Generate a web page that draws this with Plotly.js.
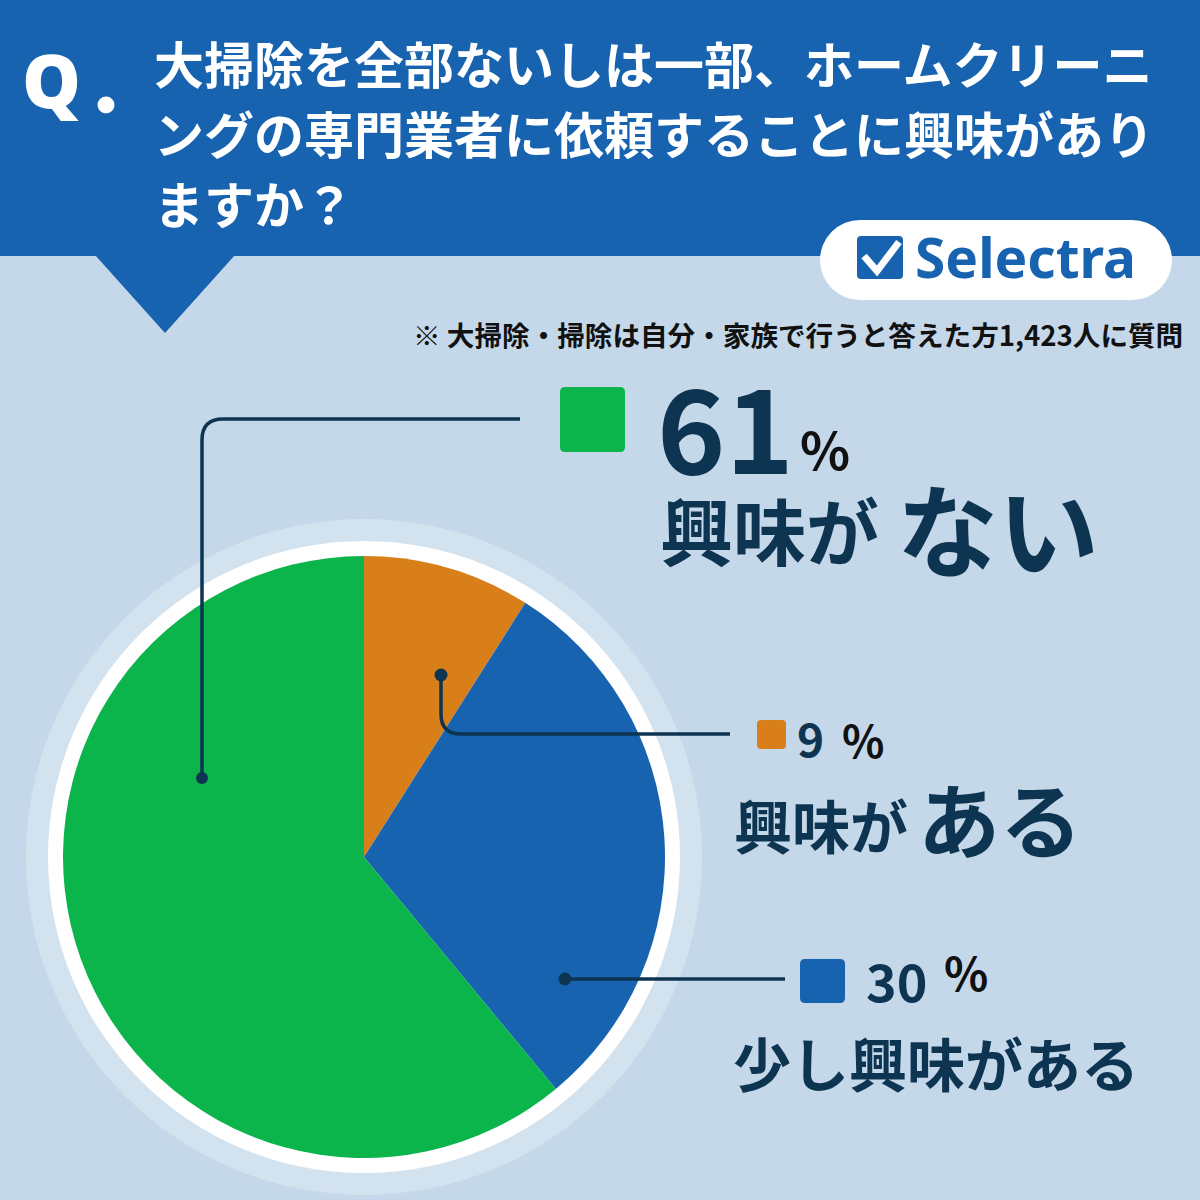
<!DOCTYPE html>
<html>
<head>
<meta charset="utf-8">
<script src="https://cdn.plot.ly/plotly-3.0.1.min.js"></script>
<style>html,body{margin:0;padding:0;background:#c5d8ea;}#chart{width:1200px;height:1200px;}</style>
</head>
<body>
<div id="chart"></div>
<script>
// ---- data ----
const categories = ['興味がある', '少し興味がある', '興味がない'];
const values = [9, 30, 61];
const sliceColors = ['#d97f1a', '#1763b0', '#0bb54c'];
const titleLines = ['大掃除を全部ないしは一部、ホームクリーニ', 'ングの専門業者に依頼することに興味があり', 'ますか？'];
const noteText = '※ 大掃除・掃除は自分・家族で行うと答えた方1,423人に質問';
const brandName = 'Selectra';

// ---- helpers (pixel -> paper) ----
const W = 1200, H = 1200;
const X = p => p / W;
const Y = p => 1 - p / H;
const NAVY = '#0d3451';
const FONT = '"Noto Sans CJK JP", "Noto Sans", sans-serif';

function path(segs) {
  return segs.map(s => {
    const c = s[0];
    const nums = [];
    for (let i = 1; i < s.length; i += 2) nums.push(X(s[i]) + ',' + Y(s[i + 1]));
    return c + nums.join(' ');
  }).join(' ');
}
function roundRect(x0, y0, x1, y1, r) {
  return path([
    ['M', x0 + r, y0], ['L', x1 - r, y0], ['Q', x1, y0, x1, y0 + r],
    ['L', x1, y1 - r], ['Q', x1, y1, x1 - r, y1], ['L', x0 + r, y1],
    ['Q', x0, y1, x0, y1 - r], ['L', x0, y0 + r], ['Q', x0, y0, x0 + r, y0], ['Z']
  ]);
}
function circle(cx, cy, r, color, layer) {
  return {type: 'circle', xref: 'paper', yref: 'paper', x0: X(cx - r), x1: X(cx + r), y0: Y(cy + r), y1: Y(cy - r),
    fillcolor: color, line: {width: 0}, layer: layer || 'above'};
}
function ann(text, x, y, size, color, xanchor, extra) {
  return Object.assign({text: text, x: X(x), y: Y(y), xref: 'paper', yref: 'paper', showarrow: false,
    xanchor: xanchor || 'left', yanchor: 'middle',
    font: {family: FONT, size: size, color: color || NAVY, weight: 700}}, extra || {});
}

// pie geometry
const cx = 364, cy = 857, r = 301;

const shapes = [
  // header banner
  {type: 'rect', xref: 'paper', yref: 'paper', x0: 0, x1: 1, y0: Y(256), y1: 1, fillcolor: '#1763b0', line: {width: 0}, layer: 'below'},
  {type: 'path', xref: 'paper', yref: 'paper', path: path([['M', 95, 255], ['L', 235, 255], ['L', 165, 333], ['Z']]), fillcolor: '#1763b0', line: {width: 0}, layer: 'below'},
  // halo + white ring
  circle(cx, cy, 338, '#d3e2ef', 'below'),
  circle(cx, cy, 316, '#ffffff', 'below'),
  // Selectra pill
  {type: 'rect', xref: 'paper', yref: 'paper', x0: X(860), x1: X(1132), y0: Y(300), y1: Y(220), fillcolor: '#ffffff', line: {width: 0}, layer: 'above'},
  circle(860, 260, 40, '#ffffff'),
  circle(1132, 260, 40, '#ffffff'),
  {type: 'path', xref: 'paper', yref: 'paper', path: roundRect(857, 236, 903, 279, 4), fillcolor: '#1763b0', line: {width: 0}},
  {type: 'path', xref: 'paper', yref: 'paper', path: path([['M', 864, 256], ['L', 877, 271], ['L', 899, 242]]), line: {color: '#ffffff', width: 7}},
  // Q dot
  circle(106, 105, 8.5, '#ffffff'),
  // legend squares
  {type: 'path', xref: 'paper', yref: 'paper', path: roundRect(560, 387, 625, 452, 5), fillcolor: sliceColors[2], line: {width: 0}},
  {type: 'path', xref: 'paper', yref: 'paper', path: roundRect(757, 720, 786, 749, 4), fillcolor: sliceColors[0], line: {width: 0}},
  {type: 'path', xref: 'paper', yref: 'paper', path: roundRect(800, 959, 845, 1003, 5), fillcolor: sliceColors[1], line: {width: 0}},
  // leader lines
  {type: 'path', xref: 'paper', yref: 'paper', path: path([['M', 202, 778], ['L', 202, 440], ['Q', 202, 419, 223, 419], ['L', 520, 419]]), line: {color: NAVY, width: 3.5}},
  circle(202, 778, 6, NAVY),
  {type: 'path', xref: 'paper', yref: 'paper', path: path([['M', 441, 675], ['L', 441, 714], ['Q', 441, 734, 461, 734], ['L', 730, 734]]), line: {color: NAVY, width: 3.5}},
  circle(441, 675, 6.5, NAVY),
  {type: 'path', xref: 'paper', yref: 'paper', path: path([['M', 565, 979], ['L', 785, 979]]), line: {color: NAVY, width: 3.5}},
  circle(565, 979, 6.5, NAVY)
];

const annotations = [
  ann('Q', 20, 80, 72, '#ffffff', 'left', {font: {family: '"Noto Sans", sans-serif', size: 74, color: '#ffffff', weight: 900}}),
  ann(titleLines[0], 152, 62, 50, '#ffffff'),
  ann(titleLines[1], 152, 132, 50, '#ffffff'),
  ann(titleLines[2], 152, 202, 50, '#ffffff'),
  ann(brandName, 913, 257, 55, '#1763b0', 'left', {font: {family: '"Noto Sans", sans-serif', size: 55, color: '#1763b0', weight: 700}}),
  ann(noteText, 1185, 334, 27.6, '#111111', 'right'),
  // 61% 興味がない
  ann('61', 655, 423, 116, NAVY),
  ann('%', 798, 448, 52, '#111111'),
  ann('興味が', 658, 528, 73, NAVY),
  ann('ない', 895, 526, 101, NAVY),
  // 9% 興味がある
  ann('9', 795, 737, 46, NAVY),
  ann('%', 840, 739, 44, '#111111'),
  ann('興味が', 732, 824, 58, NAVY),
  ann('ある', 916, 816, 82, NAVY),
  // 30% 少し興味がある
  ann('30', 864, 979, 52, NAVY),
  ann('%', 942, 971, 46, '#111111'),
  ann(categories[1], 731, 1062, 58, NAVY)
];

const data = [{
  type: 'pie',
  labels: categories,
  values: values,
  marker: {colors: sliceColors, line: {width: 0}},
  sort: false,
  direction: 'clockwise',
  rotation: 0,
  textinfo: 'none',
  hoverinfo: 'skip',
  showlegend: false,
  domain: {x: [X(cx - r), X(cx + r)], y: [Y(cy + r), Y(cy - r)]}
}];

const layout = {
  width: W, height: H,
  margin: {l: 0, r: 0, t: 0, b: 0},
  paper_bgcolor: '#c5d8ea',
  plot_bgcolor: '#c5d8ea',
  showlegend: false,
  shapes: shapes,
  annotations: annotations
};

Plotly.newPlot('chart', data, layout, {displayModeBar: false, staticPlot: true});
</script>
</body>
</html>
